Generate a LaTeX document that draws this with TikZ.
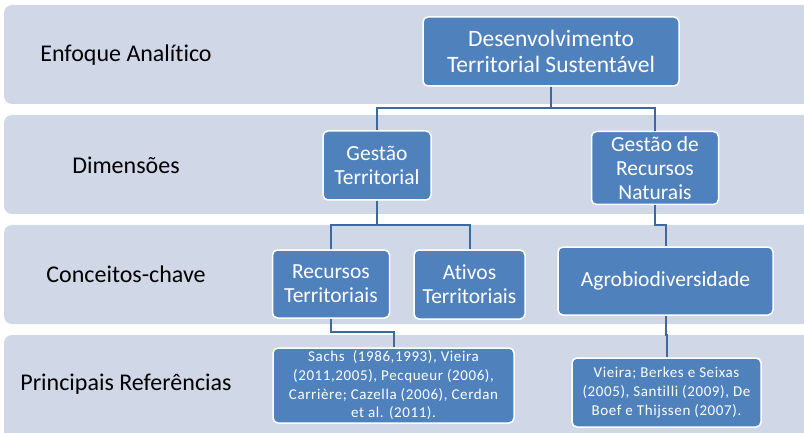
\documentclass[tikz,border=0pt]{standalone}
\usepackage{fontspec}
\setmainfont{Carlito}[Ligatures={NoCommon,TeX}]
\newfontfamily\reffont{Carlito}[Ligatures={NoCommon,TeX}, LetterSpace=4]
\definecolor{bandfill}{HTML}{D0D8E8}
\definecolor{boxfill}{HTML}{4F81BD}
\definecolor{linkcol}{HTML}{3B6A9E}
\begin{document}
\begin{tikzpicture}[x=1pt,y=-1pt,
  band/.style={fill=bandfill, rounded corners=8pt},
  level/.style={font=\fontsize{24}{28}\selectfont, anchor=center},
  box/.style={rectangle, fill=boxfill, draw=white, line width=1.5pt, rounded corners=5pt,
    text=white, align=center, inner sep=0pt, font=\fontsize{21.5}{24}\selectfont},
  refbox/.style={box, font=\reffont\fontsize{15}{18.7}\selectfont},
  link/.style={draw=linkcol, line width=2pt}]

      \useasboundingbox (0,0) rectangle (804,433);

      \fill[band] (4,5) rectangle (830,104);
      \fill[band] (4,115) rectangle (830,214);
      \fill[band] (4,225) rectangle (830,324);
      \fill[band] (4,335) rectangle (830,460);

      \node[level] (enfoque) at (126,55) {Enfoque Analítico};
      \node[level] (dimensoes) at (126,165) {Dimensões};
      \node[level] (conceitos) at (126,274) {Conceitos-chave};
      \node[level] (referencias) at (126,384) {Principais Referências};

      \node[box, minimum width=256, minimum height=69, font=\fontsize{23.5}{26}\selectfont] (dts) at (551,51.5) {Desenvolvimento\\Territorial Sustentável};
      \node[box, minimum width=108, minimum height=69] (gt) at (377,165.5) {Gestão\\Territorial};
      \node[box, minimum width=127, minimum height=73] (grn) at (655,168) {Gestão de\\Recursos\\Naturais};
      \node[box, minimum width=117, minimum height=68] (rt) at (331,284) {Recursos\\Territoriais};
      \node[box, minimum width=111, minimum height=69] (at) at (469.5,284.5) {Ativos\\Territoriais};
      \node[box, minimum width=215, minimum height=68] (agro) at (665.5,281) {Agrobiodiversidade};
      \node[refbox, minimum width=241, minimum height=75] (refa) at (393.5,385.5) {Sachs\ \ (1986,1993), Vieira\\(2011,2005), Pecqueur (2006),\\Carrière; Cazella (2006), Cerdan\\et al. (2011).};
      \node[refbox, minimum width=189, minimum height=69] (refb) at (666.5,392.5) {Vieira; Berkes e Seixas\\(2005), Santilli (2009), De\\Boef e Thijssen (2007).};

      \coordinate (j1) at (dts.south |- 0,108);
      \coordinate (j2) at (gt.south |- 0,225);
      \coordinate (j3) at (grn.south |- 0,225);
      \coordinate (j4) at (rt.south |- 0,332);
      \coordinate (j5) at (agro.south |- 0,335);

      \draw[link] (dts.south) -- (j1) -| (gt.north);
      \draw[link] (j1) -| (grn.north);
      \draw[link] (gt.south) -- (j2) -| (rt.north);
      \draw[link] (j2) -| (at.north);
      \draw[link] (grn.south) -- (j3) -| (agro.north);
      \draw[link] (rt.south) -- (j4) -| (refa.north);
      \draw[link] (agro.south) -- (j5) -| (refb.north);

\end{tikzpicture}
\end{document}
